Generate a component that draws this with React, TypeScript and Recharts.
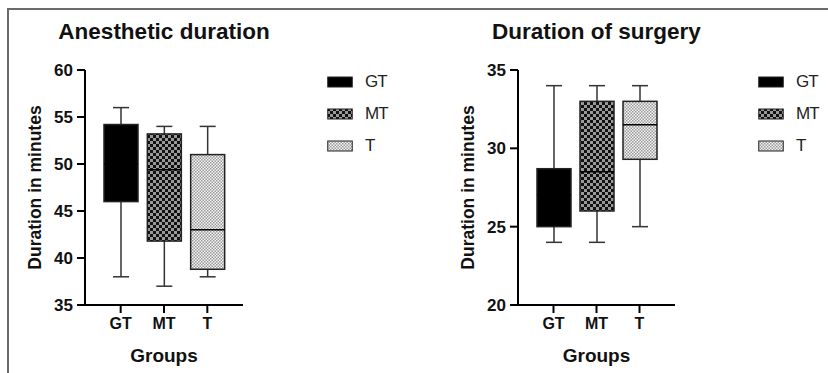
import { ComposedChart, Bar, XAxis, YAxis } from "recharts";

// ---------------------------------------------------------------------------
// Data
// ---------------------------------------------------------------------------

const groups = ["GT", "MT", "T"];

// anesthetic duration (minutes): min, q1, median, q3, max per group
const anestheticMin = [38, 37, 38];
const anestheticQ1 = [46, 41.8, 38.8];
const anestheticMedian = [50, 49.4, 43];
const anestheticQ3 = [54.2, 53.2, 51];
const anestheticMax = [56, 54, 54];
const anestheticTicks = [35, 40, 45, 50, 55, 60];

// duration of surgery (minutes)
const surgeryMin = [24, 24, 25];
const surgeryQ1 = [25, 26, 29.3];
const surgeryMedian = [27, 28.5, 31.5];
const surgeryQ3 = [28.7, 33, 33];
const surgeryMax = [34, 34, 34];
const surgeryTicks = [20, 25, 30, 35];

const FILLS: Record<string, string> = {
  GT: "#000000",
  MT: "url(#pat-mt)",
  T: "url(#pat-t)",
};

const FONT = "'Liberation Sans', Arial, sans-serif";

type BoxRow = {
  group: string;
  min: number;
  q1: number;
  median: number;
  q3: number;
  max: number;
};

function buildRows(
  min: number[],
  q1: number[],
  median: number[],
  q3: number[],
  max: number[]
): BoxRow[] {
  return groups.map((g, i) => ({
    group: g,
    min: min[i],
    q1: q1[i],
    median: median[i],
    q3: q3[i],
    max: max[i],
  }));
}

const anestheticRows = buildRows(
  anestheticMin,
  anestheticQ1,
  anestheticMedian,
  anestheticQ3,
  anestheticMax
);
const surgeryRows = buildRows(surgeryMin, surgeryQ1, surgeryMedian, surgeryQ3, surgeryMax);

// ---------------------------------------------------------------------------
// Box shape: the bar spans min..max, the rest is placed by the same scale
// ---------------------------------------------------------------------------

function BoxShape(props: any) {
  const { x, y, width, height, payload } = props;
  const d = payload as BoxRow;
  const top = Math.min(y, y + height);
  const h = Math.abs(height);
  const unit = h / (d.max - d.min);
  const py = (v: number) => top + (d.max - v) * unit;
  const cx = x + width / 2;
  const cap = 8;
  const stroke = "#333";
  return (
    <g>
      <line x1={cx} x2={cx} y1={py(d.max)} y2={py(d.q3)} stroke={stroke} strokeWidth={1.5} />
      <line x1={cx} x2={cx} y1={py(d.q1)} y2={py(d.min)} stroke={stroke} strokeWidth={1.5} />
      <line x1={cx - cap} x2={cx + cap} y1={py(d.max)} y2={py(d.max)} stroke={stroke} strokeWidth={1.5} />
      <line x1={cx - cap} x2={cx + cap} y1={py(d.min)} y2={py(d.min)} stroke={stroke} strokeWidth={1.5} />
      <rect
        x={x}
        y={py(d.q3)}
        width={width}
        height={py(d.q1) - py(d.q3)}
        fill={FILLS[d.group]}
        stroke="#222"
        strokeWidth={1.5}
      />
      <line x1={x} x2={x + width} y1={py(d.median)} y2={py(d.median)} stroke="#000" strokeWidth={1.5} />
    </g>
  );
}

// ---------------------------------------------------------------------------
// One panel
// ---------------------------------------------------------------------------

function BoxPanel({
  rows,
  domain,
  ticks,
  left,
  marginLeft,
  marginRight,
  title,
}: {
  rows: BoxRow[];
  domain: [number, number];
  ticks: number[];
  left: number;
  marginLeft: number;
  marginRight: number;
  title: string;
}) {
  const width = 260;
  const plotLeft = marginLeft + 65;
  const plotRight = width - marginRight;
  return (
    <div style={{ position: "absolute", left, top: 0, width, height: 373 }}>
      <div
        style={{
          position: "absolute",
          left: plotLeft - 130 + (plotRight - plotLeft) / 2,
          width: 260,
          top: 19,
          textAlign: "center",
          fontFamily: FONT,
          fontWeight: 700,
          fontSize: 22.5,
          color: "#111",
          whiteSpace: "nowrap",
        }}
      >
        {title}
      </div>
      <ComposedChart
        width={width}
        height={373}
        data={rows}
        margin={{ top: 70, right: marginRight, bottom: 8, left: marginLeft }}
      >
        <XAxis
          dataKey="group"
          type="category"
          padding={{ left: 14, right: 14 }}
          height={60}
          axisLine={{ stroke: "#000", strokeWidth: 2 }}
          tickLine={{ stroke: "#000", strokeWidth: 2 }}
          tickSize={8}
          tickMargin={5}
          tick={{ fill: "#111", fontSize: 16, fontWeight: 700, fontFamily: FONT }}
          label={({ viewBox }: any) => (
            <text
              x={viewBox.x + viewBox.width / 2}
              y={viewBox.y + 57}
              textAnchor="middle"
              fill="#111"
              fontSize={19}
              fontWeight={700}
              fontFamily={FONT}
            >
              Groups
            </text>
          )}
        />
        <YAxis
          type="number"
          domain={domain}
          ticks={ticks}
          allowDataOverflow
          width={65}
          axisLine={{ stroke: "#000", strokeWidth: 2 }}
          tickLine={{ stroke: "#000", strokeWidth: 2 }}
          tickSize={8}
          tickMargin={4}
          tick={{ fill: "#111", fontSize: 17, fontWeight: 700, fontFamily: FONT }}
          label={({ viewBox }: any) => {
            const lx = viewBox.x + 15;
            const ly = viewBox.y + viewBox.height / 2;
            return (
              <text
                x={lx}
                y={ly}
                transform={`rotate(-90 ${lx} ${ly})`}
                textAnchor="middle"
                dominantBaseline="central"
                fill="#111"
                fontSize={17.5}
                fontWeight={700}
                fontFamily={FONT}
              >
                Duration in minutes
              </text>
            );
          }}
        />
        <Bar
          dataKey={(d: BoxRow) => [d.min, d.max]}
          barSize={34}
          shape={<BoxShape />}
          isAnimationActive={false}
        />
      </ComposedChart>
    </div>
  );
}

function LegendBlock({ left }: { left: number }) {
  return (
    <div style={{ position: "absolute", left, top: 66 }}>
      {groups.map((g) => (
        <div
          key={g}
          style={{ display: "flex", alignItems: "center", height: 32, fontFamily: FONT, fontSize: 17, color: "#222" }}
        >
          <svg width={26} height={12} style={{ marginRight: 12 }}>
            <rect x={0.75} y={1} width={24.5} height={10} fill={FILLS[g]} stroke="#222" strokeWidth={1} />
          </svg>
          <span style={{ letterSpacing: -1 }}>{g}</span>
        </div>
      ))}
    </div>
  );
}

export default function App() {
  return (
    <div
      style={{
        position: "absolute",
        left: 0,
        top: 0,
        width: 828,
        height: 373,
        background: "#fff",
        overflow: "hidden",
      }}
    >
      <svg width={0} height={0} style={{ position: "absolute" }}>
        <defs>
          <pattern id="pat-mt" width={6} height={6} patternUnits="userSpaceOnUse">
            <rect width={6} height={6} fill="#9a9a9a" />
            <rect width={3} height={3} fill="#111" />
            <rect x={3} y={3} width={3} height={3} fill="#111" />
          </pattern>
          <pattern id="pat-t" width={3} height={3} patternUnits="userSpaceOnUse">
            <rect width={3} height={3} fill="#f4f4f4" />
            <rect width={1.5} height={1.5} fill="#9a9a9a" />
            <rect x={1.5} y={1.5} width={1.5} height={1.5} fill="#9a9a9a" />
          </pattern>
        </defs>
      </svg>
      {/* frame */}
      <div
        style={{
          position: "absolute",
          left: 7,
          top: 8,
          width: 830,
          height: 380,
          borderLeft: "2px solid #6a6a6a",
          borderTop: "2px solid #6a6a6a",
        }}
      />
      <BoxPanel
        rows={anestheticRows}
        domain={[35, 60]}
        ticks={anestheticTicks}
        left={0}
        marginLeft={20}
        marginRight={17}
        title="Anesthetic duration"
      />
      <BoxPanel
        rows={surgeryRows}
        domain={[20, 35]}
        ticks={surgeryTicks}
        left={440}
        marginLeft={13}
        marginRight={25}
        title="Duration of surgery"
      />
      <LegendBlock left={327} />
      <LegendBlock left={758} />
    </div>
  );
}
